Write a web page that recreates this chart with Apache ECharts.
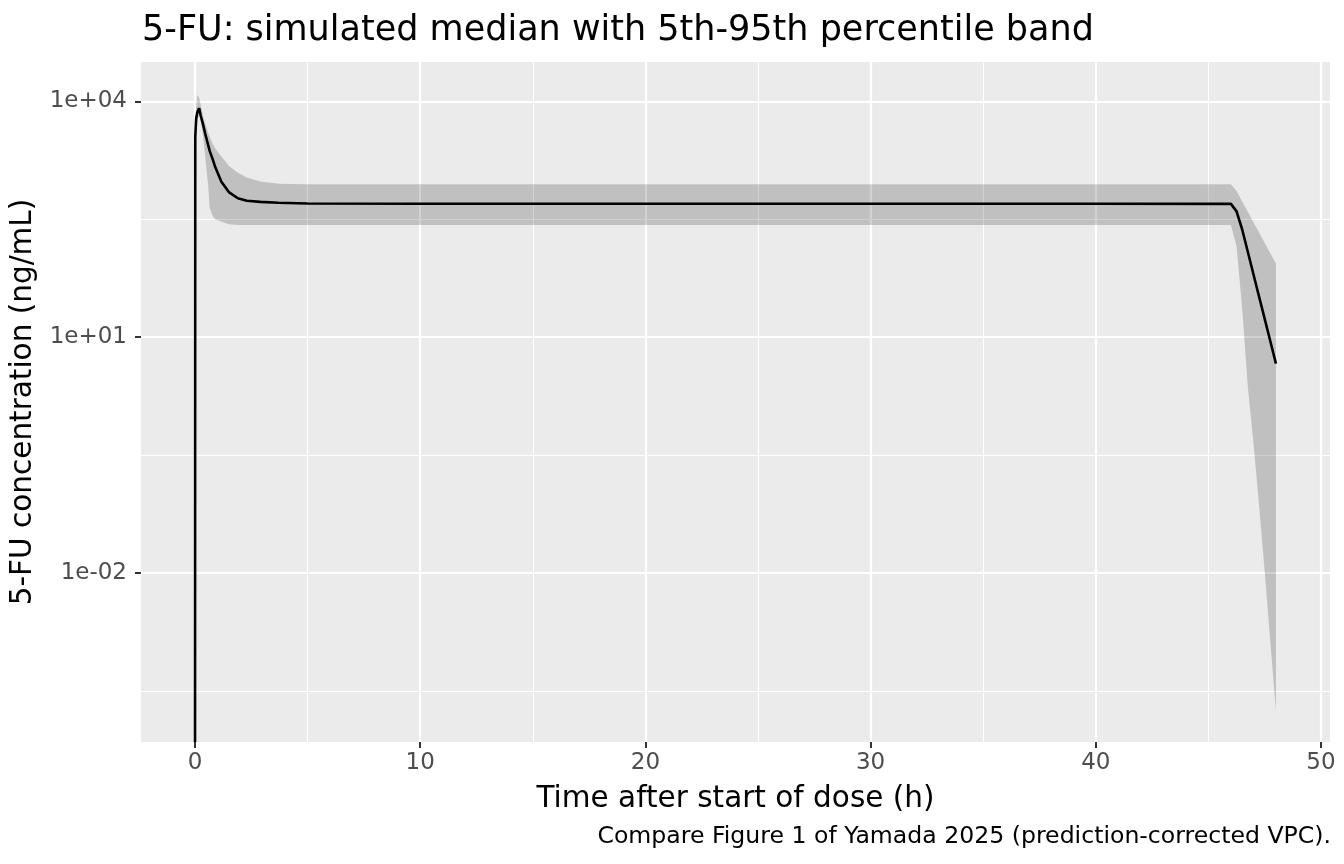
<!DOCTYPE html>
<html>
<head>
<meta charset="utf-8">
<title>5-FU simulated median</title>
<script src="https://cdn.jsdelivr.net/npm/echarts@6/dist/echarts.min.js"></script>
<style>
  html, body { margin: 0; padding: 0; background: #ffffff; }
  #chart { width: 1344px; height: 864px; }
</style>
</head>
<body>
<div id="chart"></div>
<script>
// time grid (h) shared by all three series
const timeH = [
  0, 0.01, 0.05, 0.1, 0.18, 0.25, 0.36, 0.45, 0.58, 0.65, 0.8, 0.9, 1.17, 1.5, 1.9, 2.3, 2.9, 3.7,
  5, 10, 20, 30, 40, 46, 46.25, 46.5, 46.75, 47, 47.25, 47.5, 47.75, 48,
];
// concentrations in ng/mL
const medianConc = [
  0, 3548, 6026, 7244, 8185, 6607, 5012, 3890, 2793, 2344, 1778, 1445, 951, 700, 585, 543, 525, 513,
  501, 498, 497, 497, 497, 496, 398, 234, 122, 63.1, 32.8, 17.1, 8.87, 4.61,
];
const p95Conc = [
  0, 5012, 8913, 12023, 11220, 9120, 6397, 5248, 3981, 3548, 2818, 2512, 1982, 1514, 1230, 1072, 955, 891,
  881, 881, 881, 881, 881, 881, 724, 531, 393, 290, 214, 158, 117, 86.7,
];
const p05Conc = [
  0, 1995, 4467, 5495, 6918, 5754, 3548, 1995, 863, 437, 339, 316, 294, 272, 267, 267, 267, 267,
  267, 267, 267, 267, 267, 267, 143, 23.2, 2.34, 0.455, 0.0723, 0.0104, 0.00132, 0.000176,
];

const xMajorTicks = [0, 10, 20, 30, 40, 50];
const xMinorTicks = [5, 15, 25, 35, 45];
const yMajorTicks = [-2, 1, 4]; // log10 of 1e-02, 1e+01, 1e+04
const yMinorTicks = [-3.5, -0.5, 2.5];

const X_MIN = -2.4;
const X_MAX = 50.4;
const Y_MIN = -4.15;
const Y_MAX = 4.5;

const FONT = "DejaVu Sans";

// log10, with zero sent to the panel floor like ggplot does with -Inf
function toLog(value) {
  if (!(value > 0)) {
    return Y_MIN;
  }
  return Math.log10(value);
}

function formatSci(exp) {
  const e = Math.round(exp);
  const sign = e < 0 ? "-" : "+";
  return `1e${sign}${String(Math.abs(e)).padStart(2, "0")}`;
}

// ribbon rows: [t, log10(p05), log10(p95)], skipping the t=0 zero row
const bandRows = [];
timeH.forEach((t, i) => {
  if (p05Conc[i] > 0 && p95Conc[i] > 0) {
    bandRows.push([t, Math.log10(p05Conc[i]), Math.log10(p95Conc[i])]);
  }
});
const medianData = timeH.map((t, i) => [t, toLog(medianConc[i])]);

function renderBand(params, api) {
  if (params.dataIndex !== 0) {
    return null;
  }
  const upper = bandRows.map((row) => api.coord([row[0], row[2]]));
  const lower = bandRows.map((row) => api.coord([row[0], row[1]])).reverse();
  return {
    type: "polygon",
    shape: { points: upper.concat(lower) },
    style: { fill: "rgba(0, 0, 0, 0.18)", stroke: null },
    silent: true,
  };
}

function makeXAxis(ticks, major) {
  return {
    type: "value",
    min: X_MIN,
    max: X_MAX,
    position: "bottom",
    axisLine: { show: false, onZero: false },
    axisTick: {
      show: major,
      customValues: ticks,
      length: 6,
      lineStyle: { color: "#333333", width: 2 },
    },
    axisLabel: {
      show: major,
      customValues: ticks,
      margin: 10,
      color: "#4d4d4d",
      fontSize: 23,
      fontFamily: FONT,
    },
    splitLine: {
      show: true,
      lineStyle: { color: "#ffffff", width: major ? 2.2 : 1.1 },
    },
    name: major ? "Time after start of dose (h)" : "",
    nameLocation: "middle",
    nameGap: 42,
    nameTextStyle: { color: "#000000", fontSize: 29.5, fontFamily: FONT },
  };
}

function makeYAxis(ticks, major) {
  return {
    type: "value",
    min: Y_MIN,
    max: Y_MAX,
    position: "left",
    axisLine: { show: false, onZero: false },
    axisTick: {
      show: major,
      customValues: ticks,
      length: 6,
      lineStyle: { color: "#333333", width: 2 },
    },
    axisLabel: {
      show: major,
      customValues: ticks,
      margin: 14,
      color: "#4d4d4d",
      fontSize: 23,
      fontFamily: FONT,
      formatter: formatSci,
    },
    splitLine: {
      show: true,
      lineStyle: { color: "#ffffff", width: major ? 2.2 : 1.1 },
    },
    name: major ? "5-FU concentration (ng/mL)" : "",
    nameLocation: "middle",
    nameGap: 91,
    nameTextStyle: { color: "#000000", fontSize: 29.5, fontFamily: FONT },
  };
}

const chart = echarts.init(document.getElementById("chart"), null, { renderer: "canvas" });

chart.setOption({
  animation: false,
  backgroundColor: "#ffffff",
  title: [
    {
      text: "5-FU: simulated median with 5th-95th percentile band",
      left: 137,
      top: 8,
      textStyle: { color: "#000000", fontSize: 35, fontWeight: "normal", fontFamily: FONT },
    },
    {
      text: "Compare Figure 1 of Yamada 2025 (prediction-corrected VPC).",
      right: 8,
      top: 820,
      textStyle: { color: "#000000", fontSize: 23.6, fontWeight: "normal", fontFamily: FONT },
    },
  ],
  grid: {
    left: 141,
    right: 14,
    top: 62,
    bottom: 122,
    show: true,
    backgroundColor: "#ebebeb",
    borderWidth: 0,
  },
  xAxis: [makeXAxis(xMajorTicks, true), makeXAxis(xMinorTicks, false)],
  yAxis: [makeYAxis(yMajorTicks, true), makeYAxis(yMinorTicks, false)],
  series: [
    {
      name: "band",
      type: "custom",
      renderItem: renderBand,
      data: bandRows,
      encode: { x: 0, y: [1, 2] },
      silent: true,
    },
    {
      name: "median",
      type: "line",
      data: medianData,
      symbol: "none",
      lineStyle: { color: "#000000", width: 2.6 },
      silent: true,
    },
  ],
});
</script>
</body>
</html>
